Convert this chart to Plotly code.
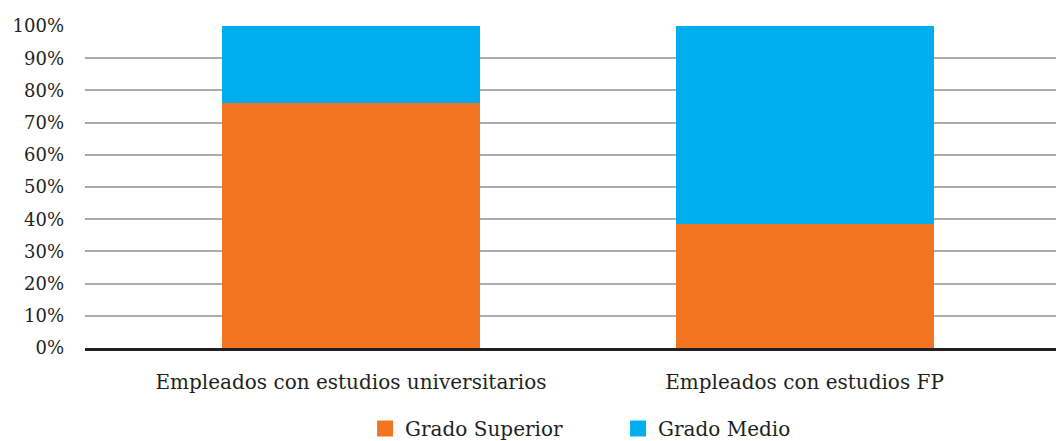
import plotly.graph_objects as go

categories = ["Empleados con estudios universitarios", "Empleados con estudios FP"]
grado_superior = [76, 38.5]
grado_medio = [24, 61.5]
series_names = ["Grado Superior", "Grado Medio"]
y_ticks = [0, 10, 20, 30, 40, 50, 60, 70, 80, 90, 100]
y_tick_labels = [f"{v}%" for v in y_ticks]

ORANGE = "#F47521"
BLUE = "#00AEEF"
TEXT = "#231F20"
FONT = "DejaVu Serif, Liberation Serif, serif"

fig = go.Figure()
for name, vals, col in [(series_names[0], grado_superior, ORANGE),
                        (series_names[1], grado_medio, BLUE)]:
    fig.add_trace(go.Bar(x=categories, y=vals, name=name, legendgroup=name,
                         showlegend=False,
                         marker=dict(color=col, line=dict(width=0)), width=0.569))
# legend-only entries with larger square swatches
for name, col in [(series_names[0], ORANGE), (series_names[1], BLUE)]:
    fig.add_trace(go.Scatter(x=[None], y=[None], mode="markers", name=name,
                             legendgroup=name,
                             marker=dict(symbol="square", size=23, color=col)))

fig.update_layout(
    width=1056, height=441,
    barmode="stack",
    paper_bgcolor="white", plot_bgcolor="white",
    margin=dict(l=85, r=0, t=25.5, b=93.3, autoexpand=False),
    font=dict(family=FONT, size=20, color=TEXT),
    showlegend=True,
    legend=dict(orientation="h", x=0.549, xanchor="center", y=-0.25, yanchor="middle",
                traceorder="normal", font=dict(family=FONT, size=20, color=TEXT),
                entrywidth=208, bgcolor="rgba(0,0,0,0)"),
    xaxis=dict(type="category", range=[-0.5866, 1.5545], showgrid=False,
               showline=True, linecolor="#231F20", linewidth=3, automargin=False,
               ticks="", ticklabelstandoff=14, tickfont=dict(family=FONT, size=20, color=TEXT)),
    yaxis=dict(range=[0, 100], tickvals=y_ticks, ticktext=y_tick_labels,
               showgrid=True, gridcolor="#ABABAB", gridwidth=1.5, automargin=False,
               zeroline=False, showline=False, ticks="",
               ticklabelstandoff=20, tickfont=dict(family=FONT, size=18, color=TEXT)),
)

fig.write_html("out.html",
               config={"displayModeBar": False},
               post_script="document.body.style.margin='0';document.body.style.overflow='hidden';")
